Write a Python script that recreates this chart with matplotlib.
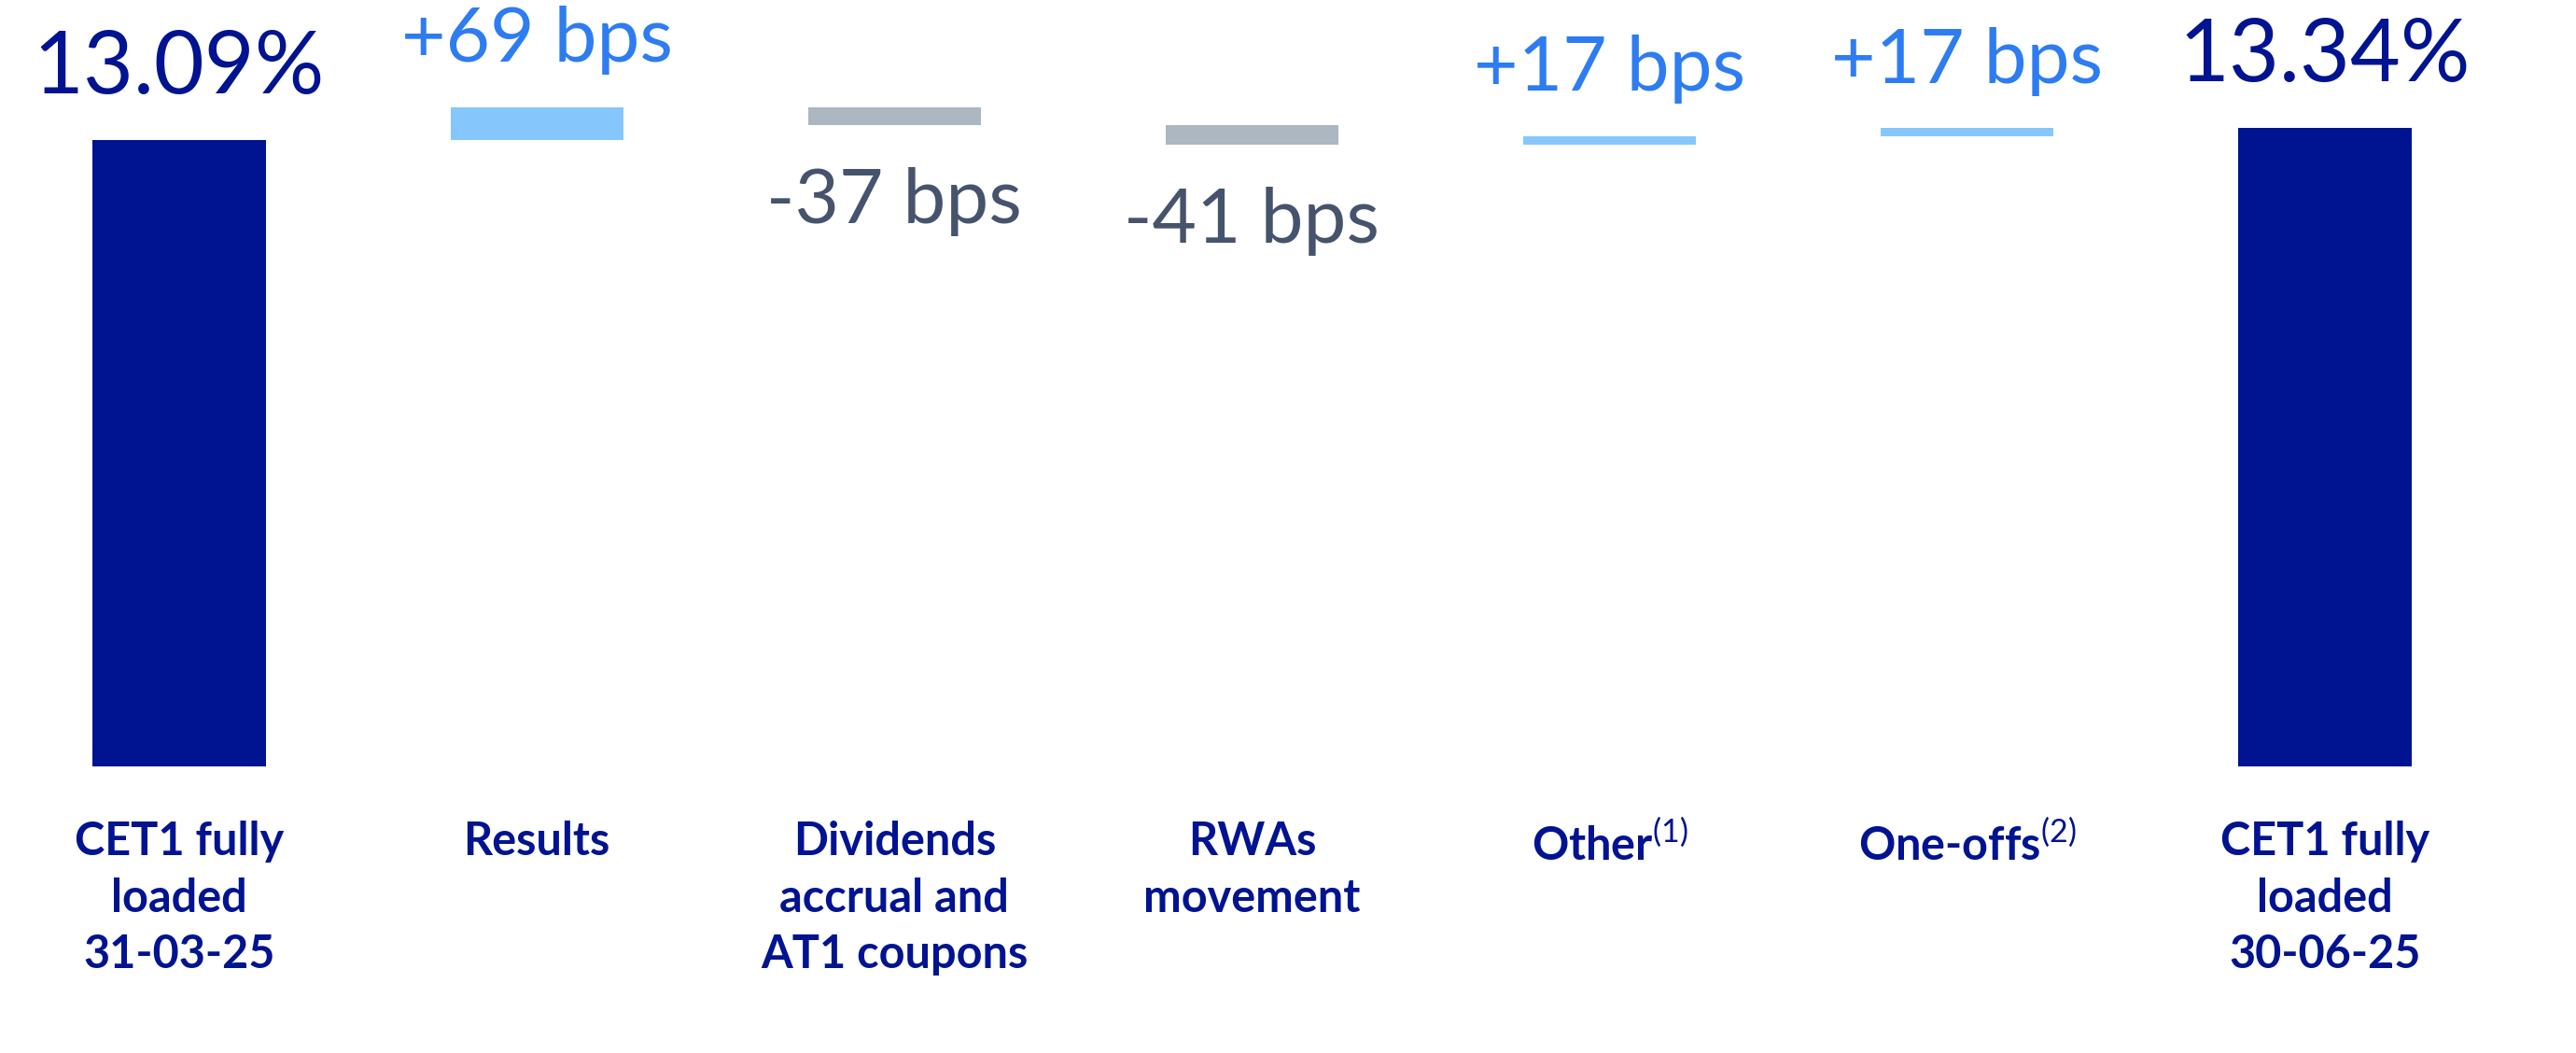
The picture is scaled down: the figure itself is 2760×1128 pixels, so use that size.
import matplotlib
matplotlib.use('Agg')
import matplotlib.pyplot as plt

# CET1 fully loaded waterfall, 31-03-25 -> 30-06-25
categories = ['CET1 fully\nloaded\n31-03-25', 'Results',
              'Dividends\naccrual and\nAT1 coupons', 'RWAs\nmovement',
              'Other$^{\\mathrm{(1)}}$', 'One-offs$^{\\mathrm{(2)}}$',
              'CET1 fully\nloaded\n30-06-25']
start_ratio = 13.09   # %
end_ratio = 13.34     # %
changes_bps = [69, -37, -41, 17, 17]

navy = '#001391'
light_blue = '#85c7fc'
grey = '#adb7c1'
pos_text = '#2d7cf2'
neg_text = '#46536c'

plt.rcParams['font.family'] = ['Lato', 'DejaVu Sans']
plt.rcParams['mathtext.fontset'] = 'custom'
plt.rcParams['mathtext.rm'] = 'Lato'

fig = plt.figure(figsize=(27.6, 11.28), dpi=100)
ax = fig.add_axes([0, 0, 1, 1])
ax.set_xlim(-0.501, 6.702)
ax.set_ylim(-5.99, 16.02)
ax.axis('off')

width = 0.483

# start bar
ax.bar(0, start_ratio, width=width, color=navy)
ax.annotate(f'{start_ratio:.2f}%', (0, start_ratio), xytext=(0, 36),
            textcoords='offset points', ha='center', va='baseline',
            fontsize=67, color=navy)

level = start_ratio
for i, ch in enumerate(changes_bps, start=1):
    delta = ch / 100
    bottom = level if delta > 0 else level + delta
    ax.bar(i, abs(delta), bottom=bottom, width=width,
           color=light_blue if delta > 0 else grey)
    if delta > 0:
        ax.annotate(f'+{ch} bps', (i, level + delta), xytext=(0, 35),
                    textcoords='offset points', ha='center', va='baseline',
                    fontsize=59, color=pos_text)
    else:
        ax.annotate(f'{ch} bps', (i, level + delta), xytext=(0, -76),
                    textcoords='offset points', ha='center', va='baseline',
                    fontsize=59, color=neg_text)
    level += delta

# end bar
ax.bar(6, end_ratio, width=width, color=navy)
ax.annotate(f'{end_ratio:.2f}%', (6, end_ratio), xytext=(0, 36),
            textcoords='offset points', ha='center', va='baseline',
            fontsize=67, color=navy)

# category labels under the baseline
for i, lab in enumerate(categories):
    ax.annotate(lab, (i, 0), xytext=(0, -42), textcoords='offset points',
                ha='center', va='top', fontsize=35, fontweight='bold',
                color=navy, linespacing=1.41, multialignment='center')

fig.savefig('out.png', dpi=100, facecolor='white')
